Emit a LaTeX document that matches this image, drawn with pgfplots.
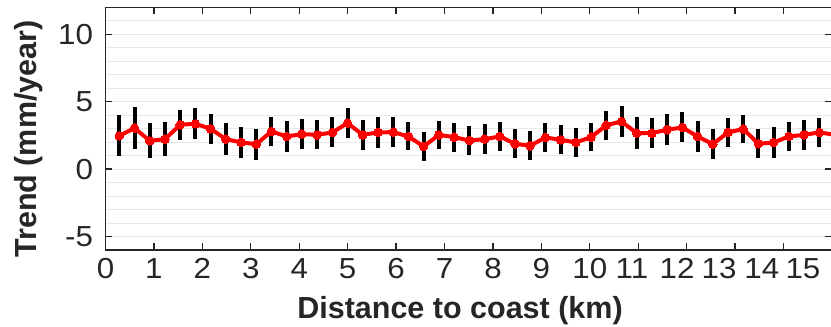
\documentclass[border=0pt]{standalone}
\usepackage{fontspec}
\setmainfont{Liberation Sans}
\newfontfamily\tickfont{Liberation Sans}[FakeStretch=1.08]
\usepackage{pgfplots}
\pgfplotsset{compat=1.18}
\usepackage{pgfplotstable}
\definecolor{axgray}{RGB}{38,38,38}
\definecolor{gridgray}{RGB}{232,232,232}

\pgfplotstableread{
x y e
0.285 2.47 1.52
0.599 3.04 1.55
0.913 2.10 1.31
1.228 2.22 1.24
1.542 3.29 1.12
1.856 3.36 1.15
2.170 2.99 1.12
2.484 2.22 1.18
2.799 1.98 1.17
3.113 1.85 1.14
3.427 2.79 1.11
3.741 2.42 1.14
4.055 2.60 1.14
4.370 2.54 1.08
4.684 2.72 1.11
4.998 3.41 1.09
5.312 2.54 1.11
5.626 2.72 1.15
5.941 2.74 1.10
6.255 2.42 1.04
6.569 1.68 1.05
6.883 2.54 1.05
7.197 2.37 1.07
7.512 2.12 1.10
7.826 2.22 1.11
8.140 2.42 1.11
8.454 1.88 1.09
8.768 1.73 1.07
9.083 2.35 1.07
9.397 2.17 1.07
9.711 1.98 1.07
10.025 2.37 1.06
10.339 3.25 1.09
10.654 3.53 1.14
10.968 2.67 1.17
11.282 2.67 1.10
11.596 2.92 1.14
11.910 3.09 1.11
12.225 2.42 1.12
12.539 1.85 1.12
12.853 2.72 1.09
13.167 2.97 1.05
13.481 1.88 1.09
13.796 1.98 1.14
14.110 2.42 1.09
14.424 2.54 1.10
14.738 2.72 1.05
15.052 2.55 1.10
}\trend

\begin{document}
\begin{tikzpicture}
\begin{axis}[
  scale only axis,
  width=726.5pt, height=242.7pt,
  xmin=0, xmax=15, ymin=-6, ymax=12,
  axis line style={draw=axgray, line width=1.3pt},
  tick align=inside,
  major tick length=7pt, minor tick length=0pt,
  every tick/.style={draw=axgray, line width=1.3pt},
  xtick={0,1,2,3,4,5,6,7,8,9,10,11,12,13,14,15},
  xticklabels={},
  extra x ticks={0,1,2,3,4,5,6,7,8,9,10,10.87,11.8,12.67,13.55,14.4},
  extra x tick labels={0,1,2,3,4,5,6,7,8,9,10,11,12,13,14,15},
  extra x tick style={major tick length=0pt},
  ytick={-5,0,5,10},
  yticklabels={-5,0,5,10},
  minor ytick={-6,-4,-3,-2,-1,1,2,3,4,6,7,8,9,11,12},
  ymajorgrids, yminorgrids,
  major grid style={draw=gridgray, line width=1pt},
  minor grid style={draw=gridgray, line width=1pt},
  ticklabel style={font=\tickfont\fontsize{29}{31}\selectfont, text=axgray},
  xticklabel style={yshift=-5pt},
  yticklabel style={xshift=-9pt},
  xlabel={Distance to coast (km)},
  ylabel={Trend (mm/year)},
  label style={font=\bfseries\fontsize{30.5}{32}\selectfont, text=axgray},
  xlabel style={at={(ticklabel cs:0.488)}},
  ylabel style={at={(ticklabel cs:0.457)}},
  xlabel shift=10pt,
  ylabel shift=8pt,
]
\addplot[draw=none, mark=none, forget plot,
  error bars/.cd, y dir=both, y explicit, error mark=none,
  error bar style={draw=black, line width=4pt}]
  table[x=x, y=y, y error=e]{\trend};
\addplot[red, line width=4pt, line join=round, mark=*, mark size=4.3pt,
  mark options={fill=red, draw=red, line width=0pt}]
  table[x=x, y=y]{\trend};
\end{axis}
\pgfresetboundingbox
\useasboundingbox ([xshift=-105.5pt,yshift=-77pt]current axis.south west) rectangle ++(831pt,327pt);
\end{tikzpicture}
\end{document}
